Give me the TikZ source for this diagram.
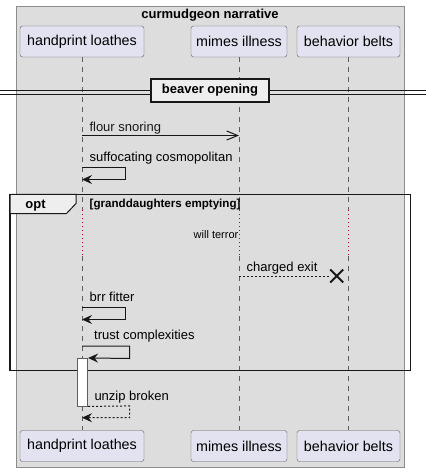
\documentclass[tikz,border=0pt]{standalone}
\usepackage{fontspec}
\setmainfont{Liberation Sans}
\usepackage{tikz}
\usetikzlibrary{positioning,arrows.meta,shapes.misc}
\definecolor{partfill}{HTML}{E2E2F0}
\definecolor{boxfill}{HTML}{DDDDDD}
\definecolor{tabfill}{HTML}{EEEEEE}
\definecolor{delayred}{HTML}{C0003A}
\definecolor{edge}{HTML}{181818}
\definecolor{boxedge}{HTML}{8C8C8C}
\tikzset{
  actor/.style={draw=edge!70, fill=partfill, rounded corners=2.5pt, minimum height=31pt, inner sep=0pt, font=\fontsize{14.3}{16}\selectfont},
  msg/.style={font=\fontsize{13}{15}\selectfont, anchor=base west, inner sep=0pt},
  boldtxt/.style={font=\bfseries\fontsize{13}{15}\selectfont, inner sep=0pt},
  life/.style={draw=edge!70, dash pattern=on 5pt off 5pt, line width=0.8pt},
  delayline/.style={draw=delayred, dash pattern=on 1pt off 3pt, line width=1pt},
  call/.style={draw=edge, line width=1pt, -{Stealth[length=10pt,width=9pt,inset=3.5pt]}},
  reply/.style={call, dash pattern=on 2pt off 2pt},
  divider/.style={draw=edge, line width=2pt, fill=tabfill, minimum width=118pt, minimum height=23pt, inner sep=0pt}
}
\begin{document}
\begin{tikzpicture}[x=1pt, y=-1pt]
    \useasboundingbox (0,0) rectangle (426,472);
    \fill[white] (0,0) rectangle (426,472);
    \draw[boxedge, fill=boxfill] (16,6) rectangle (404.5,467);
    \node[boldtxt, anchor=base] (title) at (210,18.5) {curmudgeon narrative};

    \node[actor, minimum width=124pt] (hand) at (82,41.5) {handprint loathes};
    \node[actor, minimum width=96pt] (mimes) at (239,41.5) {mimes illness};
    \node[actor, minimum width=103pt] (belts) at (348.5,41.5) {behavior belts};
    \node[actor, minimum width=124pt] (handfoot) at (82,446) {handprint loathes};
    \node[actor, minimum width=96pt] (mimesfoot) at (239,446) {mimes illness};
    \node[actor, minimum width=103pt] (beltsfoot) at (348.5,446) {behavior belts};

    \draw[life] (hand.south) -- (hand |- 0,210);
    \draw[delayline] (hand |- 0,210) -- (hand |- 0,256);
    \draw[life] (hand |- 0,256) -- (handfoot.north);
    \draw[life] (mimes.south) -- (mimes |- 0,210);
    \draw[delayline] (mimes |- 0,210) -- (mimes |- 0,256);
    \draw[life] (mimes |- 0,256) -- (mimesfoot.north);
    \draw[life] (belts.south) -- (belts |- 0,210);
    \draw[delayline] (belts |- 0,210) -- (belts |- 0,256);
    \draw[life] (belts |- 0,256) -- (beltsfoot.north);

    \node[divider] (opening) at (210,90) {};
    \draw[edge, line width=1pt] (0,90) -- (opening.west |- 0,90);
    \draw[edge, line width=1pt] (0,94) -- (opening.west |- 0,94);
    \draw[edge, line width=1pt] (opening.east |- 0,90) -- (426,90);
    \draw[edge, line width=1pt] (opening.east |- 0,94) -- (426,94);
    \node[boldtxt] at (opening) {beaver opening};

    \draw[edge, line width=1pt, -{Straight Barb[length=11pt,width=9pt]}] (hand |- 0,135.5) -- node[msg, pos=0, above right=4pt and 7pt, anchor=base west] {flour snoring} (mimes |- 0,135.5);

    \node[msg] (suffocating) at (89.5,161) {suffocating cosmopolitan};
    \draw[call] (hand |- 0,167) -- (125,167) -- (125,179.5) -- (hand |- 0,179.5);

    \draw[edge, line width=1.5pt] (10,194.3) rectangle (410.5,370.7);
    \draw[edge, line width=1pt, fill=tabfill] (10,194.3) -- (76,194.3) -- (76,203.5) -- (66.5,213.5) -- (10,213.5) -- cycle;
    \node[boldtxt, anchor=base] (optlbl) at (35.5,208.5) {opt};
    \node[msg, font=\bfseries\fontsize{11.6}{13}\selectfont] (guard) at (89.5,207.3) {[granddaughters emptying]};

    \node[msg, font=\fontsize{11}{13}\selectfont, anchor=base east] (terror) at (238.5,238.3) {will terror};

    \node[draw=edge, cross out, line width=2pt, minimum size=11pt, inner sep=0pt] (exitx) at (336.7,276) {};
    \node[msg] (charged) at (246.5,271.5) {charged exit};
    \draw[edge, line width=1pt, dash pattern=on 2pt off 2pt] (mimes |- 0,276) -- (exitx.west);

    \node[msg] (brr) at (89.5,301.5) {brr fitter};
    \draw[call] (hand |- 0,307) -- (125,307) -- (125,319.5) -- (hand |- 0,319.5);

    \node[draw=edge!70, fill=white, line width=0.8pt, minimum width=10.4pt, minimum height=47.7pt, inner sep=0pt] (act) at (82.5,382.2) {};

    \node[msg] (trust) at (94,339.3) {trust complexities};
    \draw[call] (hand |- 0,346) -- (129.5,346) -- (129.5,358.5) -- (act.north east);

    \node[msg] (unzip) at (94.3,400.7) {unzip broken};
    \draw[reply] (act.south east) -- (129.5,405.9) -- (129.5,417.7) -- (hand |- 0,417.7);
\end{tikzpicture}
\end{document}
